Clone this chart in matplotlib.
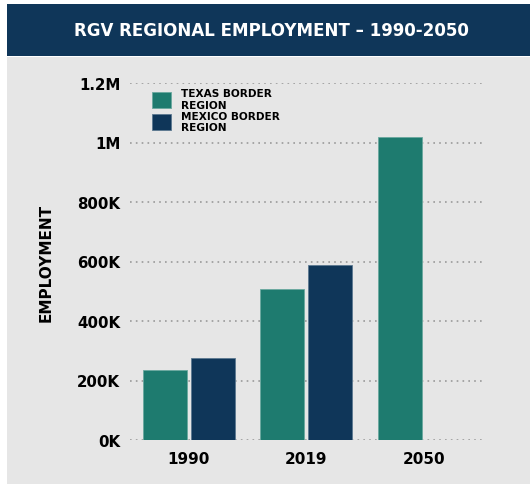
import numpy as np
import matplotlib
matplotlib.use("Agg")
import matplotlib.pyplot as plt
from matplotlib.patches import Rectangle
from matplotlib.ticker import FuncFormatter

years = ['1990', '2019', '2050']
texas = [235000, 508000, 1018000]
mexico = [276000, 588000, np.nan]
series_names = ['TEXAS BORDER\nREGION', 'MEXICO BORDER\nREGION']

plt.rcParams['font.family'] = ['DejaVu Sans']
plt.rcParams['font.weight'] = 'bold'

teal = '#1e7b6f'
navy = '#0f3659'
panel = '#e6e6e6'

fig = plt.figure(figsize=(5.3, 4.85), dpi=100, facecolor='white')
# grey panel and title band
fig.patches.append(Rectangle((7 / 530, 0), 1, 1 - 58 / 485, transform=fig.transFigure,
                             facecolor=panel, edgecolor='none', zorder=-2))
fig.patches.append(Rectangle((7 / 530, 1 - 57 / 485), 1, 52 / 485, transform=fig.transFigure,
                             facecolor=navy, edgecolor='none', zorder=-1))
fig.text(0.513, 1 - 31 / 485, 'RGV REGIONAL EMPLOYMENT \u2013 1990-2050', color='white',
         fontsize=13.3, fontweight='bold', fontstretch='condensed', ha='center', va='center')

ax = fig.add_axes([130 / 530, 1 - 441 / 485, 355 / 530, 357 / 485])
ax.set_facecolor('none')

x = np.arange(len(years))
w = 0.375
ax.bar(x - 0.204, texas, w, color=teal, edgecolor='#6aa89f', linewidth=0.6, label=series_names[0], zorder=3)
ax.bar(x + 0.204, mexico, w, color=navy, edgecolor='#5c7890', linewidth=0.6, label=series_names[1], zorder=3)

ax.set_xlim(-0.5, 2.52)
ax.set_ylim(0, 1200000)
ax.set_yticks(np.arange(0, 1200001, 200000))
ax.yaxis.set_major_formatter(FuncFormatter(
    lambda v, p: '0K' if v == 0 else (f'{v / 1e6:g}M' if v >= 1e6 else f'{v / 1e3:.0f}K')))
ax.set_xticks(x)
ax.set_xticklabels(years)
ax.tick_params(length=0)
ax.tick_params(axis='y', pad=7, labelsize=10.8)
ax.tick_params(axis='x', pad=8, labelsize=11)
for s in ax.spines.values():
    s.set_visible(False)
ax.grid(axis='y', color='#9a9a9a', linestyle=(0, (1, 2.5)), linewidth=1.2, zorder=0)
ax.set_ylabel('EMPLOYMENT', fontsize=11, fontweight='bold', labelpad=17)

ax.legend(loc='upper left', bbox_to_anchor=(0.035, 1.012), frameon=False, fontsize=7.6,
          handlelength=1.8, handleheight=2.0, handletextpad=1.0, labelspacing=0.1)

fig.savefig('out.png', dpi=100, facecolor='white')
